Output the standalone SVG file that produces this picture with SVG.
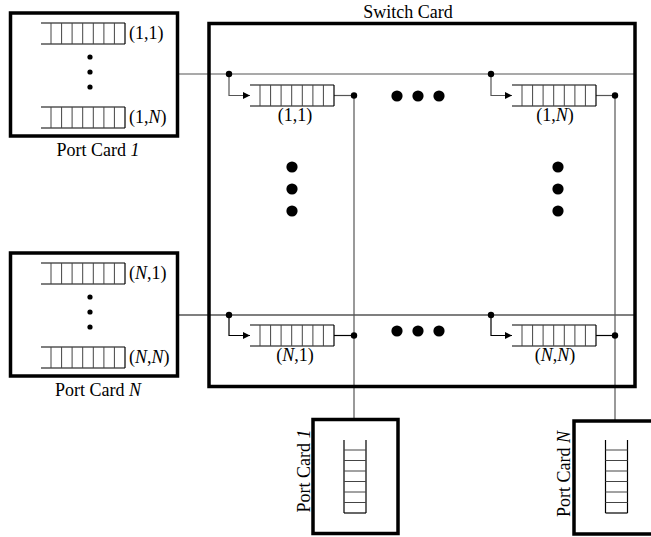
<svg xmlns="http://www.w3.org/2000/svg" width="651" height="537" viewBox="0 0 651 537">
<style>
.box{fill:none;stroke:#000;stroke-width:3.5}
.ln{fill:none;stroke:#555;stroke-width:1.2}
.lnk{fill:none;stroke:#000;stroke-width:1.2}
.qh{stroke:#000;stroke-width:1.2}
.qv{stroke:#444;stroke-width:1}
text{font-family:"Liberation Serif","Times New Roman",serif;font-size:18px;fill:#000}
.it{font-style:italic}
</style>
<defs>
<g id="q">
<line class="qh" x1="0" y1="0" x2="84" y2="0"/>
<line class="qh" x1="0" y1="21" x2="84" y2="21"/>
<line class="qv" x1="10" y1="0" x2="10" y2="21"/>
<line class="qv" x1="20.6" y1="0" x2="20.6" y2="21"/>
<line class="qv" x1="31.1" y1="0" x2="31.1" y2="21"/>
<line class="qv" x1="41.7" y1="0" x2="41.7" y2="21"/>
<line class="qv" x1="52.3" y1="0" x2="52.3" y2="21"/>
<line class="qv" x1="62.9" y1="0" x2="62.9" y2="21"/>
<line class="qv" x1="73.4" y1="0" x2="73.4" y2="21"/>
<line class="qh" x1="84" y1="0" x2="84" y2="21"/>
</g>
<g id="vq">
<line class="qh" x1="0" y1="0" x2="0" y2="73"/>
<line class="qh" x1="22" y1="0" x2="22" y2="73"/>
<line class="qv" x1="0" y1="10" x2="22" y2="10"/>
<line class="qv" x1="0" y1="20.5" x2="22" y2="20.5"/>
<line class="qv" x1="0" y1="31" x2="22" y2="31"/>
<line class="qv" x1="0" y1="41.5" x2="22" y2="41.5"/>
<line class="qv" x1="0" y1="52" x2="22" y2="52"/>
<line class="qv" x1="0" y1="62.5" x2="22" y2="62.5"/>
<line class="qh" x1="0" y1="73" x2="22" y2="73"/>
</g>
<marker id="ah" viewBox="0 0 10 10" refX="10" refY="5" markerWidth="8" markerHeight="7" markerUnits="userSpaceOnUse" orient="auto">
<path d="M0,0 L10,5 L0,10 Z" fill="#000"/>
</marker>
</defs>

<g id="connectors">
<line class="ln" x1="178" y1="74" x2="634" y2="74"/>
<line class="lnk" x1="178" y1="315" x2="634" y2="315"/>
<path class="ln" d="M229,74 V95.5 H250" marker-end="url(#ah)"/>
<path class="ln" d="M491,74 V95.5 H512" marker-end="url(#ah)"/>
<path class="lnk" d="M229,315 V335.5 H250" marker-end="url(#ah)"/>
<path class="lnk" d="M491,315 V335.5 H512" marker-end="url(#ah)"/>
<line class="ln" x1="334" y1="95.5" x2="354" y2="95.5"/>
<line class="ln" x1="596" y1="95.5" x2="615" y2="95.5"/>
<line class="lnk" x1="334" y1="335.5" x2="354" y2="335.5"/>
<line class="lnk" x1="596" y1="335.5" x2="615" y2="335.5"/>
<line class="ln" x1="354" y1="95.5" x2="354" y2="418"/>
<line class="ln" x1="615" y1="95.5" x2="615" y2="420"/>
<circle cx="229" cy="74" r="3.2"/>
<circle cx="491" cy="74" r="3.2"/>
<circle cx="229" cy="315" r="3.2"/>
<circle cx="491" cy="315" r="3.2"/>
<circle cx="354" cy="95.5" r="3.2"/>
<circle cx="615" cy="95.5" r="3.2"/>
<circle cx="354" cy="335.5" r="3.2"/>
<circle cx="615" cy="335.5" r="3.2"/>
</g>

<g id="switch-card">
<rect class="box" x="209" y="23.5" width="426" height="363"/>
<text x="408" y="18" text-anchor="middle">Switch Card</text>
<use href="#q" x="250" y="85"/>
<text x="295" y="121" text-anchor="middle">(1,1)</text>
<use href="#q" x="512" y="85"/>
<text x="555" y="121" text-anchor="middle">(1,<tspan class="it">N</tspan>)</text>
<use href="#q" x="250" y="325"/>
<text x="295" y="361" text-anchor="middle">(<tspan class="it">N</tspan>,1)</text>
<use href="#q" x="512" y="325"/>
<text x="555" y="361" text-anchor="middle">(<tspan class="it">N</tspan>,<tspan class="it">N</tspan>)</text>
<circle cx="397" cy="96" r="5.6"/>
<circle cx="418" cy="96" r="5.6"/>
<circle cx="439" cy="96" r="5.6"/>
<circle cx="397" cy="331" r="5.6"/>
<circle cx="418" cy="331" r="5.6"/>
<circle cx="439" cy="331" r="5.6"/>
<circle cx="292" cy="167" r="5.6"/>
<circle cx="292" cy="189" r="5.6"/>
<circle cx="292" cy="211" r="5.6"/>
<circle cx="558" cy="167" r="5.6"/>
<circle cx="558" cy="189" r="5.6"/>
<circle cx="558" cy="211" r="5.6"/>
</g>

<g id="port-card-in-1">
<rect class="box" x="10.5" y="13" width="167" height="123"/>
<use href="#q" x="41" y="23"/>
<text x="129" y="39">(1,1)</text>
<circle cx="90" cy="57" r="2.6"/>
<circle cx="90" cy="72" r="2.6"/>
<circle cx="90" cy="87" r="2.6"/>
<use href="#q" x="41" y="107"/>
<text x="129" y="123">(1,<tspan class="it">N</tspan>)</text>
<text x="98" y="156" text-anchor="middle">Port Card <tspan class="it">1</tspan></text>
</g>

<g id="port-card-in-N">
<rect class="box" x="10.5" y="253" width="167" height="123"/>
<use href="#q" x="41" y="263"/>
<text x="129" y="279">(<tspan class="it">N</tspan>,1)</text>
<circle cx="90" cy="297" r="2.6"/>
<circle cx="90" cy="312" r="2.6"/>
<circle cx="90" cy="327" r="2.6"/>
<use href="#q" x="41" y="347"/>
<text x="129" y="363">(<tspan class="it">N</tspan>,<tspan class="it">N</tspan>)</text>
<text x="98" y="396" text-anchor="middle">Port Card <tspan class="it">N</tspan></text>
</g>

<g id="port-card-out-1">
<rect class="box" x="313" y="419.5" width="85" height="114"/>
<use href="#vq" x="344" y="440"/>
<text transform="translate(310,471) rotate(-90)" text-anchor="middle">Port Card <tspan class="it">1</tspan></text>
</g>

<g id="port-card-out-N">
<rect class="box" x="574" y="421" width="85" height="113"/>
<use href="#vq" x="605.5" y="440"/>
<text transform="translate(570,474) rotate(-90)" text-anchor="middle">Port Card <tspan class="it">N</tspan></text>
</g>
</svg>
